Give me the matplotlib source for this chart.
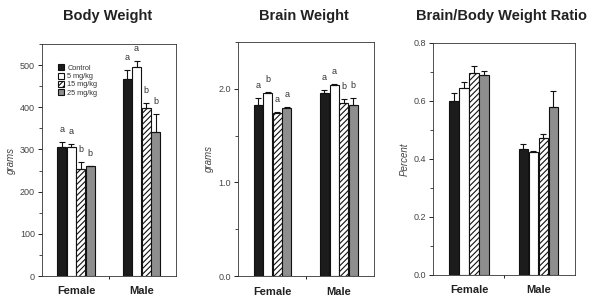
import numpy as np
import matplotlib
matplotlib.use('Agg')
import matplotlib.pyplot as plt
from matplotlib.ticker import MultipleLocator

plt.rcParams['font.family'] = ['Liberation Sans', 'DejaVu Sans']
plt.rcParams['hatch.linewidth'] = 0.8

# Data
groups = ['Female', 'Male']
doses = ['Control', '5 mg/kg', '15 mg/kg', '25 mg/kg']

body_mean = [[307, 306, 253, 260], [466, 495, 398, 342]]
body_err = [[11, 6, 17, 1.5], [22, 14, 12, 42]]
body_letters = [['a', 'a', 'b', 'b'], ['a', 'a', 'b', 'b']]

brain_mean = [[1.83, 1.957, 1.74, 1.80], [1.957, 2.04, 1.85, 1.83]]
brain_err = [[0.07, 0.01, 0.016, 0.01], [0.025, 0.01, 0.04, 0.07]]
brain_letters = [['a', 'b', 'a', 'a'], ['a', 'a', 'b', 'b']]

ratio_mean = [[0.600, 0.646, 0.697, 0.689], [0.433, 0.425, 0.473, 0.578]]
ratio_err = [[0.026, 0.021, 0.025, 0.014], [0.02, 0.003, 0.012, 0.057]]

titles = ['Body Weight', 'Brain Weight', 'Brain/Body Weight Ratio']

faces = ['#1c1c1c', 'white', 'white', '#8e8e8e']
hatches = [None, None, '//////', None]

fig = plt.figure(figsize=(5.92, 2.99), dpi=100)
W, H = 592, 299
panels = [
    (42, 176, 44, 276),
    (238, 374, 42, 276),
    (433, 575, 43, 275),
]
title_x = [108, 304, 501]

def make_ax(box):
    l, r, t, b = box
    return fig.add_axes([l / W, 1 - b / H, (r - l) / W, (b - t) / H])

width = 0.145
offsets = (np.arange(4) - 1.5) * width
x = np.arange(len(groups))


def draw(ax, means, errs, letters, ylim, major, minor, ylabel, fmt):
    means = np.array(means)
    errs = np.array(errs)
    for j in range(4):
        ax.bar(x + offsets[j], means[:, j], width * 0.93, color=faces[j],
               edgecolor='#111111', linewidth=0.8, hatch=hatches[j],
               label=doses[j], zorder=2)
        ax.errorbar(x + offsets[j], means[:, j],
                    yerr=[np.zeros(2), errs[:, j]], fmt='none',
                    ecolor='#111111', elinewidth=0.8, capsize=2.2,
                    capthick=0.8, zorder=3)
        if letters is not None:
            for i in range(2):
                ax.annotate(letters[i][j], (x[i] + offsets[j], means[i, j] + errs[i, j]),
                            xytext=(0, 9), textcoords='offset points',
                            ha='center', va='center', fontsize=6.5, color='#333333')
    ax.set_xlim(-0.52, 1.53)
    ax.set_ylim(*ylim)
    ax.yaxis.set_major_locator(MultipleLocator(major))
    ax.yaxis.set_minor_locator(MultipleLocator(minor))
    ax.yaxis.set_major_formatter(matplotlib.ticker.FormatStrFormatter(fmt))
    ax.set_xticks([0.5])
    ax.set_xticklabels([''])
    ax.tick_params(axis='x', length=2, width=0.6, direction='out')
    ax.tick_params(axis='y', which='major', length=3, width=0.6,
                   labelsize=6.5, labelcolor='#444444', pad=2)
    ax.tick_params(axis='y', which='minor', length=2, width=0.5)
    for s in ax.spines.values():
        s.set_linewidth(0.6)
        s.set_color('#333333')
    for i, g in enumerate(groups):
        ax.text(x[i], -0.045, g, transform=ax.get_xaxis_transform(),
                ha='center', va='top', fontsize=8, fontweight='bold', color='#222222')
    ax.set_ylabel(ylabel, fontsize=7, style='italic', color='#444444', labelpad=3)


ax1 = make_ax(panels[0])
draw(ax1, body_mean, body_err, body_letters, (0, 550), 100, 50, 'grams', '%d')
ax1.legend(loc='upper left', bbox_to_anchor=(0.08, 0.935), fontsize=5.3, frameon=False,
           handlelength=0.9, handleheight=0.9, handletextpad=0.4, labelspacing=0.1,
           borderpad=0.2, labelcolor='#333333')

ax2 = make_ax(panels[1])
draw(ax2, brain_mean, brain_err, brain_letters, (0, 2.5), 1.0, 0.5, 'grams', '%.1f')

ax3 = make_ax(panels[2])
draw(ax3, ratio_mean, ratio_err, None, (0, 0.8), 0.2, 0.1, 'Percent', '%.1f')

for t, tx in zip(titles, title_x):
    fig.text(tx / W, 1 - 16 / H, t, ha='center', va='center', fontsize=10.5,
             fontweight='bold', color='#222222')

fig.savefig('out.png', dpi=100)
